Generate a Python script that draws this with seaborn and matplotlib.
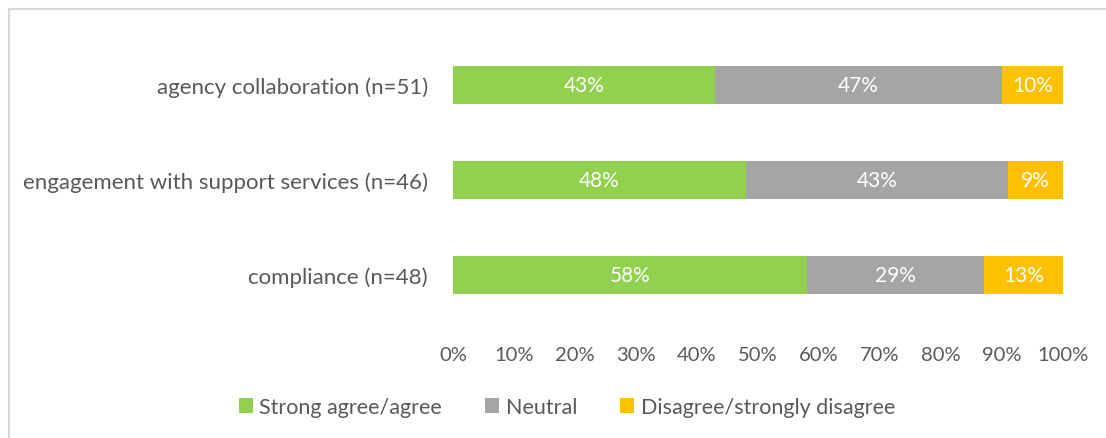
import matplotlib
matplotlib.use("Agg")
import matplotlib.pyplot as plt
from matplotlib.lines import Line2D
from matplotlib.patches import Patch
import seaborn as sns
import pandas as pd
import numpy as np

categories = [
    "agency collaboration (n=51)",
    "engagement with support services (n=46)",
    "compliance (n=48)",
]
agree = [43, 48, 58]
neutral = [47, 43, 29]
disagree = [10, 9, 13]
series_names = ["Strong agree/agree", "Neutral", "Disagree/strongly disagree"]
colors = ["#92D050", "#A5A5A5", "#FFC000"]
xticks = [0, 10, 20, 30, 40, 50, 60, 70, 80, 90, 100]

sns.set_theme(style="white")
plt.rcParams["font.family"] = ["Lato", "DejaVu Sans"]

text_color = "#595959"

fig = plt.figure(figsize=(11.06, 4.39), dpi=100)
ax = fig.add_axes([453 / 1106, 1 - 323.5 / 439, 610 / 1106, 285 / 439])

vals = np.array([agree, neutral, disagree], dtype=float)
cum = np.cumsum(vals, axis=0)

# stacked layers: draw the full stack first, then overlay shorter ones
for i in [2, 1, 0]:
    df = pd.DataFrame({"category": categories, "value": cum[i]})
    sns.barplot(data=df, x="value", y="category", orient="h", color=colors[i],
                saturation=1, width=0.4, ax=ax, order=categories, linewidth=0)

for i in range(3):
    starts = cum[i] - vals[i]
    for j, cat in enumerate(categories):
        ax.text(starts[j] + vals[i][j] / 2, j, f"{int(vals[i][j])}%",
                ha="center", va="center", color="white", fontsize=15)

ax.set_xlim(0, 100)
ax.set_ylim(2.5, -0.5)
ax.set_xticks(xticks)
ax.set_xticklabels([f"{t}%" for t in xticks], fontsize=14.5, color=text_color)
ax.tick_params(axis="x", pad=17, length=0)
ax.tick_params(axis="y", pad=18, length=0, labelsize=16, labelcolor=text_color)
ax.set_xlabel("")
ax.set_ylabel("")
for s in ax.spines.values():
    s.set_visible(False)

handles = [Patch(facecolor=c, edgecolor="none") for c in colors]
fig.legend(handles, series_names, loc="center", bbox_to_anchor=(567 / 1106, 1 - 408 / 439),
           ncol=3, frameon=False, fontsize=15.5, labelcolor=text_color,
           handlelength=0.65, handleheight=0.65, handletextpad=0.3, columnspacing=2.0)

# chart frame
fig.add_artist(Line2D([8.5 / 1106, 8.5 / 1106], [0, 1 - 10 / 439], transform=fig.transFigure,
                      color="#D9D9D9", lw=1.5))
fig.add_artist(Line2D([8.5 / 1106, 1], [1 - 10 / 439, 1 - 10 / 439], transform=fig.transFigure,
                      color="#D9D9D9", lw=1.5))

fig.savefig("out.png", dpi=100)
